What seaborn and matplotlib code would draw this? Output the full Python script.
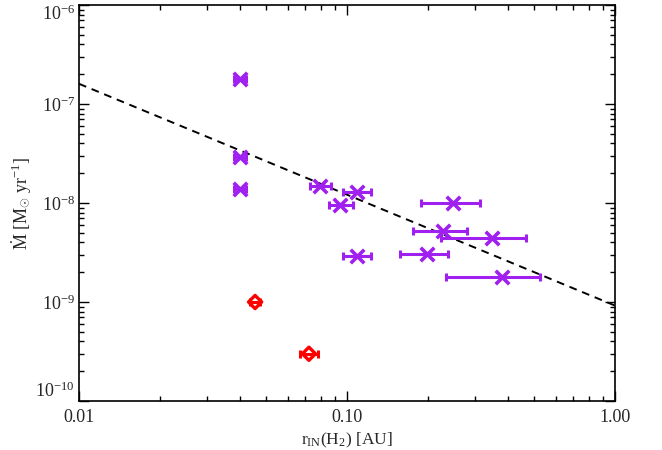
import numpy as np
import pandas as pd
import seaborn as sns
import matplotlib
matplotlib.use("Agg")
import matplotlib.pyplot as plt
from matplotlib.ticker import LogLocator, FixedLocator, FixedFormatter, NullFormatter

# ---- data ----
purple_r = [0.040, 0.040, 0.040, 0.079, 0.109, 0.094, 0.109, 0.249, 0.228, 0.347, 0.199, 0.379]
purple_r_lo = [0.038, 0.038, 0.038, 0.073, 0.097, 0.086, 0.097, 0.189, 0.176, 0.224, 0.158, 0.234]
purple_r_hi = [0.042, 0.042, 0.042, 0.087, 0.123, 0.105, 0.123, 0.313, 0.280, 0.466, 0.238, 0.525]
purple_mdot = [1.8e-7, 2.9e-8, 1.4e-8, 1.5e-8, 1.3e-8, 9.6e-9, 2.9e-9, 1.0e-8, 5.2e-9, 4.45e-9, 3.05e-9, 1.8e-9]

red_r = [0.0454, 0.0721]
red_r_lo = [0.0435, 0.0668]
red_r_hi = [0.0473, 0.0780]
red_mdot = [1.0e-9, 3.0e-10]

fit_r = [0.01, 1.0]
fit_mdot = [1.6e-7, 9.2e-10]

x_ticks = [0.01, 0.10, 1.00]
x_ticklabels = ["0.01", "0.10", "1.00"]
y_ticks = [1e-10, 1e-9, 1e-8, 1e-7, 1e-6]
y_ticklabels = [r"$10^{-10}$", r"$10^{-9}$", r"$10^{-8}$", r"$10^{-7}$", r"$10^{-6}$"]

PURPLE = "#A020F0"
RED = "#FF0000"

sns.set_style("ticks")
plt.rcParams["font.family"] = ["Liberation Serif", "DejaVu Serif"]
plt.rcParams["mathtext.fontset"] = "custom"
plt.rcParams["mathtext.rm"] = "Liberation Serif"
plt.rcParams["mathtext.it"] = "Liberation Serif:italic"
plt.rcParams["mathtext.bf"] = "Liberation Serif:bold"
plt.rcParams["mathtext.default"] = "rm"

fig = plt.figure(figsize=(6.62, 4.5), dpi=100)
ax = fig.add_axes([79 / 662, 1 - 401 / 450, (615 - 79) / 662, (401 - 5) / 450])

# dashed fit line
sns.lineplot(x=fit_r, y=fit_mdot, ax=ax, color="black", linestyle=(0, (4, 3)),
             linewidth=1.4, zorder=2)

# error bars
pr = np.array(purple_r)
xerr_p = [pr - np.array(purple_r_lo), np.array(purple_r_hi) - pr]
ax.errorbar(purple_r, purple_mdot, xerr=xerr_p, fmt="none", ecolor=PURPLE,
            elinewidth=2.2, capsize=3.2, capthick=2.2, zorder=3)
rr = np.array(red_r)
xerr_r = [rr - np.array(red_r_lo), np.array(red_r_hi) - rr]
ax.errorbar(red_r, red_mdot, xerr=xerr_r, fmt="none", ecolor=RED,
            elinewidth=2.2, capsize=3.2, capthick=2.2, zorder=3)

# markers
dfp = pd.DataFrame({"r": purple_r, "mdot": purple_mdot})
sns.scatterplot(data=dfp, x="r", y="mdot", ax=ax, marker="x", s=95,
                color=PURPLE, linewidth=2.6, zorder=4)
dfr = pd.DataFrame({"r": red_r, "mdot": red_mdot})
sns.scatterplot(data=dfr, x="r", y="mdot", ax=ax, marker="D", s=45,
                facecolor="none", edgecolor=RED, linewidth=2.4, zorder=4)

ax.set_xscale("log")
ax.set_yscale("log")
ax.set_xlim(0.01, 1.0)
ax.set_ylim(1e-10, 1e-6)

ax.xaxis.set_major_locator(FixedLocator(x_ticks))
ax.xaxis.set_major_formatter(FixedFormatter(x_ticklabels))
ax.xaxis.set_minor_locator(LogLocator(base=10, subs=np.arange(2, 10)))
ax.xaxis.set_minor_formatter(NullFormatter())
ax.yaxis.set_major_locator(FixedLocator(y_ticks))
ax.yaxis.set_major_formatter(FixedFormatter(y_ticklabels))
ax.yaxis.set_minor_locator(LogLocator(base=10, subs=np.arange(2, 10)))
ax.yaxis.set_minor_formatter(NullFormatter())

ax.tick_params(which="both", direction="in", top=True, right=True, color="black")
ax.tick_params(axis="x", labelsize=13, pad=6)
ax.tick_params(axis="y", labelsize=13, pad=3)
ax.tick_params(which="major", length=7, width=1.0)
ax.tick_params(which="minor", length=3.5, width=1.0)
for sp in ax.spines.values():
    sp.set_linewidth(1.2)
    sp.set_color("black")

ax.set_xlabel(r"r$_{\rm IN}$(H$_2$) [AU]", fontsize=12.5, labelpad=3)
ax.set_ylabel("\u1E40 [M$_{{\\odot}}$ yr$^{-1}$]", fontsize=13)
ax.yaxis.set_label_coords((33 - 79) / 536, 0.5)

# keep the extreme y labels inside the figure, as in the reference
ylabs = [t.label1 for t in ax.yaxis.get_major_ticks()]
ylabs[0].set_va("bottom")
ylabs[-1].set_va("top")

fig.savefig("out.png", dpi=100)
